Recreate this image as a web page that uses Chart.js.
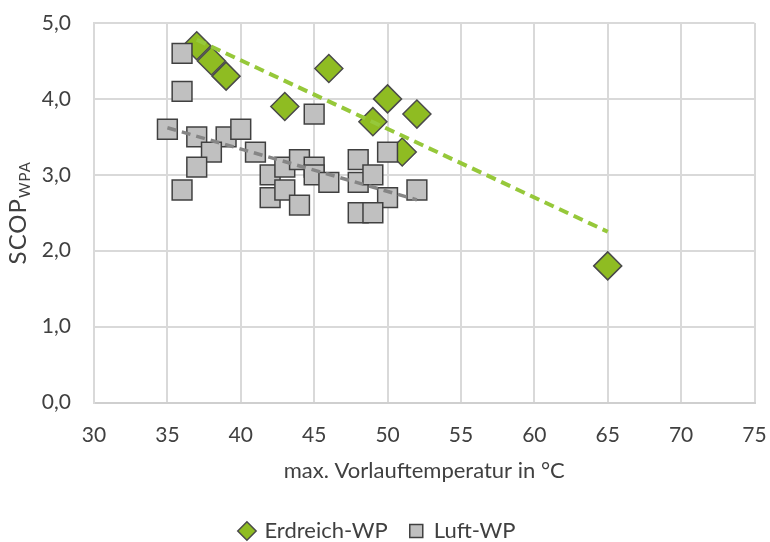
<!DOCTYPE html>
<html>
<head>
<meta charset="utf-8">
<script src="https://cdn.jsdelivr.net/npm/chart.js@4"></script>
<style>
  html, body { margin: 0; padding: 0; background: #fff; }
</style>
</head>
<body>
<canvas id="chart" width="770" height="542"></canvas>
<script>
// Erdreich-WP (ground source) points
const erdreichX = [37, 38, 39, 43, 46, 49, 50, 52, 51, 65]
const erdreichY = [4.7, 4.5, 4.3, 3.9, 4.4, 3.7, 4.0, 3.8, 3.3, 1.8]

// Luft-WP (air source) points
const luftX = [36, 36, 45, 35, 37, 39, 40, 38, 37, 36, 41, 42, 43, 44, 45, 45, 46, 42, 43, 44, 48, 48, 49, 50, 50, 52, 48, 49]
const luftY = [4.6, 4.1, 3.8, 3.6, 3.5, 3.5, 3.6, 3.3, 3.1, 2.8, 3.3, 3.0, 3.1, 3.2, 3.1, 3.0, 2.9, 2.7, 2.8, 2.6, 3.2, 2.9, 3.0, 3.3, 2.7, 2.8, 2.5, 2.5]

// trend lines, end points
const erdreichTrendX = [37, 65]
const erdreichTrendY = [4.78, 2.25]
const luftTrendX = [35, 52]
const luftTrendY = [3.62, 2.67]

const xTicks = [30, 35, 40, 45, 50, 55, 60, 65, 70, 75]
const yTicks = [0, 1, 2, 3, 4, 5]

const seriesNames = ['Erdreich-WP', 'Luft-WP']
const xTitle = 'max. Vorlauftemperatur in °C'
const yTitleMain = 'SCOP'
const yTitleSub = 'WPA'

const FONT = 'Lato'
const TEXT = '#404040'

const toPoints = (xs, ys) => xs.map((x, i) => ({ x: x, y: ys[i] }))

// drop the label overflow padding so the plot area sits where the layout says
const noScalePadding = (scale) => {
    scale.paddingLeft = 0
    scale.paddingRight = 0
    scale.paddingTop = 0
    scale.paddingBottom = 0
}

// y title with subscript, drawn by hand (Chart.js titles have no subscript)
const yTitlePlugin = {
    id: 'yTitle',
    afterDraw(chart) {
        const ctx = chart.ctx
        const area = chart.chartArea
        ctx.save()
        ctx.fillStyle = TEXT
        ctx.textBaseline = 'middle'
        ctx.textAlign = 'left'
        ctx.letterSpacing = '1px'
        ctx.font = `24px ${FONT}`
        const w1 = ctx.measureText(yTitleMain).width
        ctx.font = `15px ${FONT}`
        const w2 = ctx.measureText(yTitleSub).width
        const cy = (area.top + area.bottom) / 2
        ctx.translate(18, cy)
        ctx.rotate(-Math.PI / 2)
        const start = -(w1 + w2) / 2
        ctx.font = `24px ${FONT}`
        ctx.fillText(yTitleMain, start, 0)
        ctx.font = `15px ${FONT}`
        ctx.fillText(yTitleSub, start + w1, 7)
        ctx.restore()
    }
}

const data = {
    datasets: [
        {
            label: seriesNames[0],
            data: toPoints(erdreichX, erdreichY),
            pointStyle: 'rectRot',
            pointRadius: 14,
            pointHoverRadius: 14,
            backgroundColor: '#8FBC22',
            borderColor: '#4a4a4a',
            borderWidth: 1.5,
            order: 4
        },
        {
            label: seriesNames[1],
            data: toPoints(luftX, luftY),
            pointStyle: 'rect',
            pointRadius: 14,
            pointHoverRadius: 14,
            backgroundColor: '#C0C0C0',
            borderColor: '#404040',
            borderWidth: 1.5,
            order: 3
        },
        {
            label: 'trend-erdreich',
            data: toPoints(erdreichTrendX, erdreichTrendY),
            showLine: true,
            pointRadius: 0,
            borderColor: '#96C83A',
            borderWidth: 4,
            borderDash: [10, 6],
            order: 1
        },
        {
            label: 'trend-luft',
            data: toPoints(luftTrendX, luftTrendY),
            showLine: true,
            pointRadius: 0,
            borderColor: '#858585',
            borderWidth: 3.5,
            borderDash: [9, 6],
            order: 2
        }
    ]
}

const config = {
    type: 'scatter',
    data: data,
    plugins: [yTitlePlugin],
    options: {
        responsive: false,
        animation: false,
        devicePixelRatio: 1,
        layout: {
            padding: { left: 0, top: 23, right: 14, bottom: -10 }
        },
        plugins: {
            tooltip: { enabled: false },
            legend: {
                position: 'bottom',
                labels: {
                    usePointStyle: true,
                    boxHeight: 13,
                    boxWidth: 13,
                    padding: 22,
                    color: TEXT,
                    font: { family: FONT, size: 22 },
                    filter: (item) => seriesNames.includes(item.text),
                    sort: (a, b) => a.datasetIndex - b.datasetIndex
                }
            }
        },
        scales: {
            x: {
                type: 'linear',
                min: xTicks[0],
                max: xTicks[xTicks.length - 1],
                afterBuildTicks: (scale) => {
                    scale.ticks = xTicks.map(v => ({ value: v }))
                },
                afterFit: (scale) => {
                    scale.height = 95.5
                    noScalePadding(scale)
                },
                grid: { color: '#D9D9D9', lineWidth: 2, drawTicks: false },
                border: { color: '#CFCFCF', width: 2 },
                ticks: {
                    padding: 20,
                    color: TEXT,
                    font: { family: FONT, size: 21 }
                },
                title: {
                    display: true,
                    text: xTitle,
                    color: TEXT,
                    font: { family: FONT, size: 22 },
                    padding: { top: 0, bottom: 14 }
                }
            },
            y: {
                type: 'linear',
                min: yTicks[0],
                max: yTicks[yTicks.length - 1],
                afterBuildTicks: (scale) => {
                    scale.ticks = yTicks.map(v => ({ value: v }))
                },
                afterFit: (scale) => {
                    scale.width = 94
                    noScalePadding(scale)
                },
                grid: { color: '#D9D9D9', lineWidth: 2, drawTicks: false },
                border: { color: '#D9D9D9', width: 2 },
                ticks: {
                    padding: 23,
                    color: TEXT,
                    font: { family: FONT, size: 21 },
                    callback: (v) => v.toFixed(1).replace('.', ',')
                }
            }
        }
    }
}

new Chart(document.getElementById('chart').getContext('2d'), config)
</script>
</body>
</html>
